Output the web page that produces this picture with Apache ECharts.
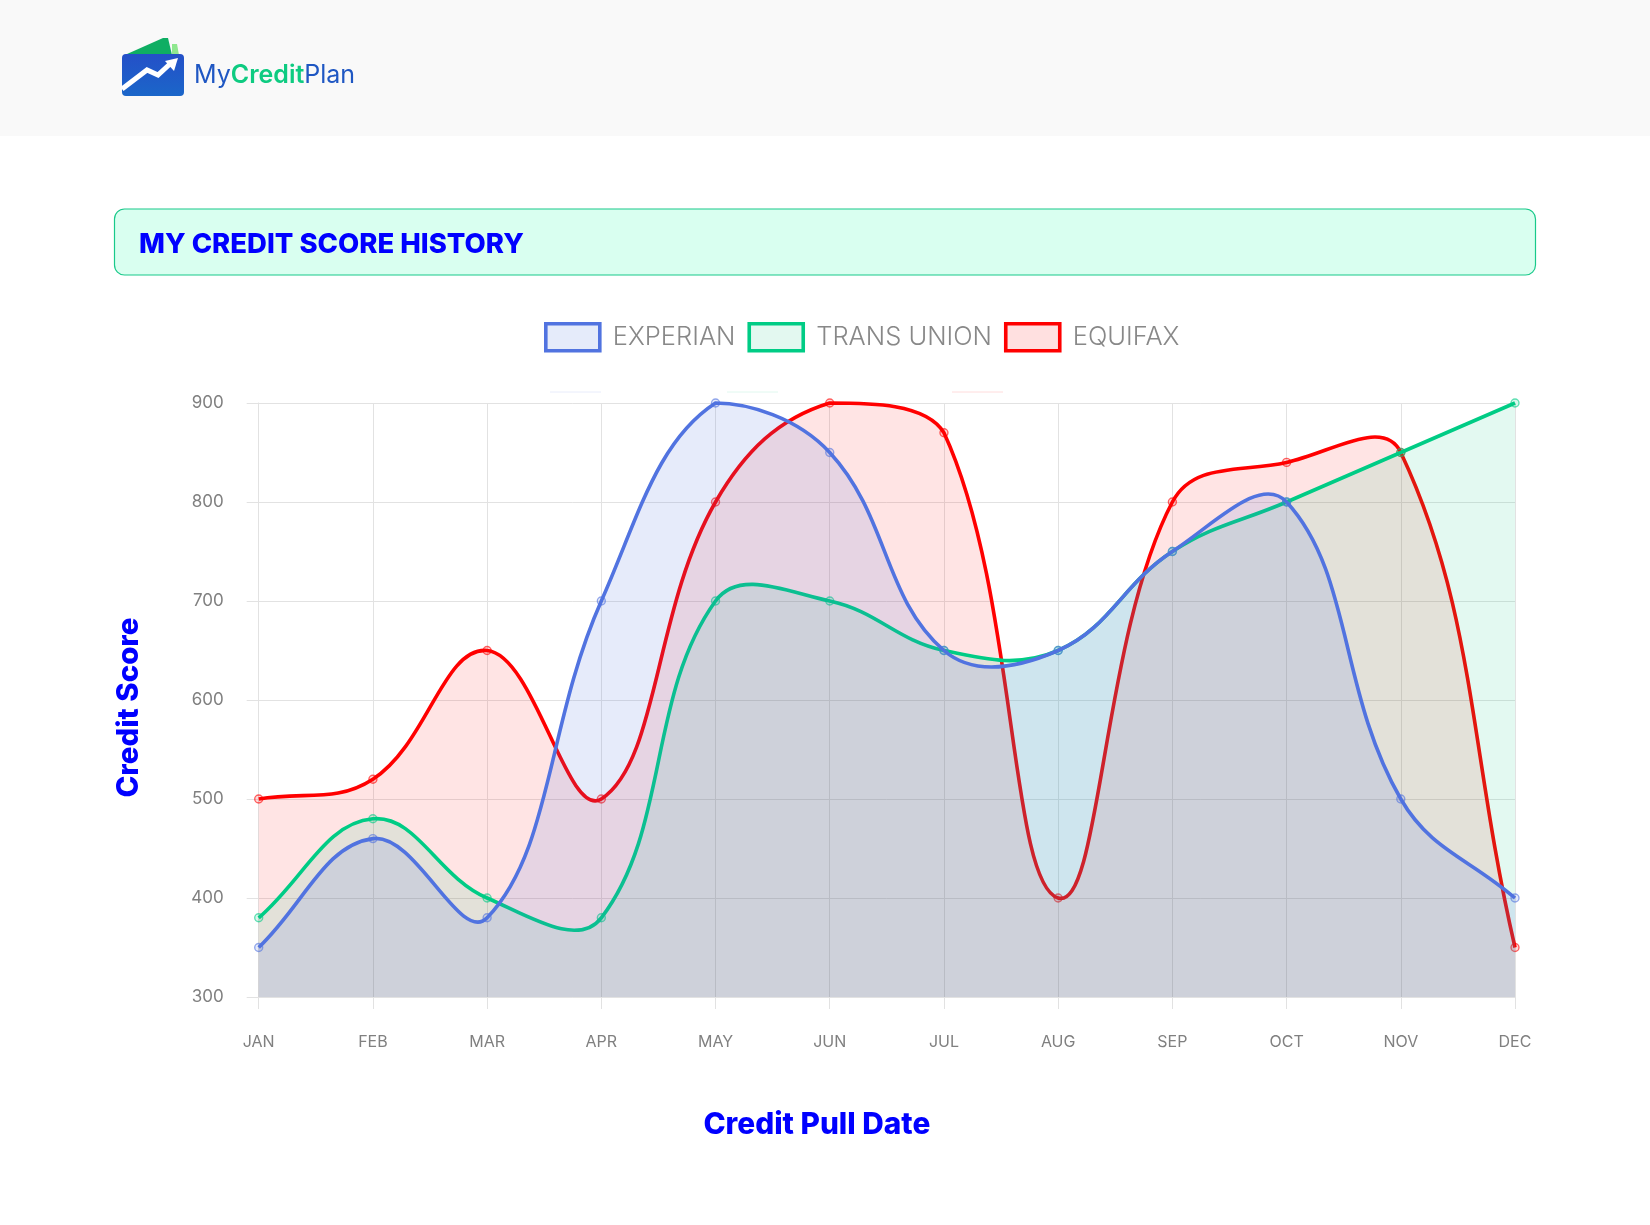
<!DOCTYPE html>
<html lang="en">

<head>
    <meta charset="UTF-8">
    <title>My Credit Score History</title>
    <script src="https://cdn.jsdelivr.net/npm/echarts@6/dist/echarts.min.js"></script>
    <style>
        body {
            margin: 0;
            background: #fff;
        }

        #root {
            width: 1650px;
            height: 1225px;
        }
    </style>
</head>

<body>

    <div id="root"></div>
    <script>

        var months = ['JAN', 'FEB', 'MAR', 'APR', 'MAY', 'JUN', 'JUL', 'AUG', 'SEP', 'OCT', 'NOV', 'DEC'];
        var experian = [350, 460, 380, 700, 900, 850, 650, 650, 750, 800, 500, 400];
        var transUnion = [380, 480, 400, 380, 700, 700, 650, 650, 750, 800, 850, 900];
        var equifax = [500, 520, 650, 500, 800, 900, 870, 400, 800, 840, 850, 350];

        var mychart = echarts.init(document.getElementById("root"));

        // control points like a tension 0.4 spline, capped to the plot area
        function splinePath(pts, area) {
            var t = 0.4;
            var top = area.y, bottom = area.y + area.height;
            var cps = pts.map(function (p, i) {
                var prev = pts[i - 1] || p, next = pts[i + 1] || p;
                var d01 = Math.hypot(p[0] - prev[0], p[1] - prev[1]);
                var d12 = Math.hypot(next[0] - p[0], next[1] - p[1]);
                var sum = d01 + d12;
                var fa = t * d01 / sum, fb = t * d12 / sum;
                var dx = next[0] - prev[0], dy = next[1] - prev[1];
                return {
                    inX: p[0] - fa * dx,
                    inY: Math.min(bottom, Math.max(top, p[1] - fa * dy)),
                    outX: p[0] + fb * dx,
                    outY: Math.min(bottom, Math.max(top, p[1] + fb * dy))
                };
            });
            var d = 'M' + pts[0][0] + ' ' + pts[0][1];
            for (var i = 1; i < pts.length; i++) {
                d += 'C' + cps[i - 1].outX + ' ' + cps[i - 1].outY + ' ' + cps[i].inX + ' ' + cps[i].inY + ' ' + pts[i][0] + ' ' + pts[i][1];
            }
            return d;
        }

        function scoreSeries(name, values, line, fill, dot, z) {
            return {
                name: name,
                type: 'custom',
                z: z,
                clip: false,
                encode: { x: 0, y: 1 },
                data: values.map(function (v, i) { return [i, v]; }),
                renderItem: function (params, api) {
                    var point = api.coord([api.value(0), api.value(1)]);
                    var circle = {
                        type: 'circle',
                        shape: { cx: point[0], cy: point[1], r: 4 },
                        style: { fill: dot, stroke: line, opacity: 0.6, lineWidth: 1.4 }
                    };
                    if (params.dataIndex !== 0) {
                        return circle;
                    }
                    var area = params.coordSys;
                    var pts = values.map(function (v, i) { return api.coord([i, v]); });
                    var curve = splinePath(pts, area);
                    var base = area.y + area.height;
                    var closed = curve + 'L' + pts[pts.length - 1][0] + ' ' + base + 'L' + pts[0][0] + ' ' + base + 'Z';
                    return {
                        type: 'group',
                        children: [
                            { type: 'path', shape: { pathData: closed }, style: { fill: fill, stroke: null } },
                            { type: 'path', shape: { pathData: curve }, style: { fill: null, stroke: line, lineWidth: 3.6 } },
                            circle
                        ]
                    };
                }
            };
        }

        function faintLine(x1, x2, color) {
            return { type: 'line', shape: { x1: x1, y1: 392, x2: x2, y2: 392 }, style: { stroke: color, lineWidth: 1 } };
        }

        mychart.setOption({
            animation: false,
            textStyle: { fontFamily: 'Inter' },
            title: {
                text: 'MY CREDIT SCORE HISTORY',
                left: 134,
                top: 226,
                textStyle: { color: '#0000ff', fontSize: 27.5, fontWeight: 800, fontFamily: 'Inter' }
            },
            legend: {
                left: 544,
                top: 322,
                padding: 0,
                itemWidth: 54,
                itemHeight: 27,
                itemGap: 12,
                textStyle: { color: '#888', fontSize: 25.5, fontWeight: 300, fontFamily: 'Inter', padding: [0, 0, 0, 8] },
                data: [
                    { name: 'EXPERIAN', icon: 'rect', itemStyle: { color: '#e5ebfa', borderColor: '#5173e0', borderWidth: 3.6 } },
                    { name: 'TRANS UNION', icon: 'rect', itemStyle: { color: '#e3f8f0', borderColor: '#00cc85', borderWidth: 3.6 } },
                    { name: 'EQUIFAX', icon: 'rect', itemStyle: { color: '#ffe0e0', borderColor: '#ff0000', borderWidth: 3.6 } }
                ]
            },
            grid: { left: 258.7, top: 403, width: 1256.3, height: 594 },
            xAxis: {
                type: 'category',
                boundaryGap: false,
                data: months,
                name: 'Credit Pull Date',
                nameLocation: 'middle',
                nameGap: 113,
                nameTextStyle: { color: '#0000ff', fontSize: 29.8, fontWeight: 800, fontFamily: 'Inter', padding: [0, 140, 0, 0] },
                axisLine: { lineStyle: { color: '#e2e2e2' } },
                axisTick: { length: 12, lineStyle: { color: '#e2e2e2' } },
                axisLabel: { color: '#808080', fontSize: 16, margin: 37, hideOverlap: false, interval: 0 },
                splitLine: { show: true, lineStyle: { color: '#e2e2e2' } }
            },
            yAxis: {
                type: 'value',
                min: 300,
                max: 900,
                interval: 100,
                name: 'Credit Score',
                nameLocation: 'middle',
                nameGap: 115,
                nameRotate: 90,
                nameTextStyle: { color: '#0000ff', fontSize: 29.4, fontWeight: 800, fontFamily: 'Inter', padding: [0, 15, 0, 0] },
                axisLine: { show: true, lineStyle: { color: '#e2e2e2' } },
                axisTick: { show: true, length: 12, lineStyle: { color: '#e2e2e2' } },
                axisLabel: { color: '#808080', fontSize: 17, margin: 35 },
                splitLine: { lineStyle: { color: '#e2e2e2' } }
            },
            graphic: [
                { type: 'rect', z: -10, shape: { x: 0, y: 0, width: 1650, height: 136 }, style: { fill: '#f9f9f9' } },
                {
                    type: 'rect', z: -10,
                    shape: { x: 114.5, y: 209, width: 1421, height: 66, r: 10 },
                    style: { fill: '#d9fff0', stroke: '#19c98a', lineWidth: 1.2 }
                },
                // logo
                { type: 'polygon', shape: { points: [[172, 44], [177, 44], [179, 55], [172, 55]] }, style: { fill: '#8fe88f' } },
                { type: 'polygon', shape: { points: [[127, 54], [163, 38], [168, 38], [172, 55]] }, style: { fill: '#0fae63' } },
                {
                    type: 'rect',
                    shape: { x: 122, y: 54, width: 62, height: 42, r: 4 },
                    style: {
                        fill: new echarts.graphic.LinearGradient(0, 0, 0, 1, [
                            { offset: 0, color: '#2450c8' }, { offset: 1, color: '#1b66c9' }
                        ])
                    }
                },
                {
                    type: 'polyline',
                    shape: { points: [[122, 89], [147, 70], [158, 75], [171, 63]] },
                    style: { fill: null, stroke: '#fff', lineWidth: 5 }
                },
                { type: 'polygon', shape: { points: [[165, 61], [178, 58], [174, 71]] }, style: { fill: '#fff' } },
                {
                    type: 'text',
                    x: 194,
                    y: 75.5,
                    style: {
                        text: '{a|My}{b|Credit}{a|Plan}',
                        verticalAlign: 'middle',
                        rich: {
                            a: { fill: '#1f57c3', font: '400 25px Inter' },
                            b: { fill: '#0ecb81', font: '600 25px Inter' }
                        }
                    }
                },
                faintLine(550, 601, '#e8ecfb'),
                faintLine(727, 778, '#e0f8ef'),
                faintLine(952, 1003, '#ffdcdc')
            ],
            series: [
                scoreSeries('EQUIFAX', equifax, '#ff0000', 'rgba(255,0,0,0.105)', 'rgba(255,0,0,0.25)', 2),
                scoreSeries('TRANS UNION', transUnion, '#00cc85', 'rgba(0,200,130,0.11)', 'rgba(0,200,130,0.25)', 3),
                scoreSeries('EXPERIAN', experian, '#5173e0', 'rgba(78,115,223,0.14)', 'rgba(78,115,223,0.25)', 4)
            ]
        });

    </script>

</body>

</html>
